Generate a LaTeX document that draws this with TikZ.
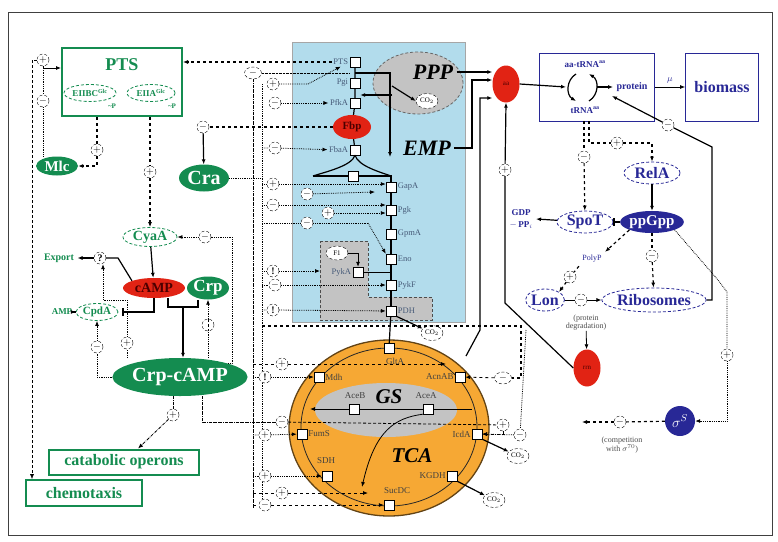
\documentclass[tikz,border=0pt]{standalone}
\usepackage{fontspec}
\setmainfont{Liberation Serif}
\usetikzlibrary{arrows.meta,shapes.geometric,calc}
\definecolor{gr}{RGB}{20,140,80}
\definecolor{bl}{RGB}{40,40,150}
\definecolor{rd}{RGB}{225,35,20}
\definecolor{lb}{RGB}{178,220,236}
\definecolor{org}{RGB}{246,168,52}
\definecolor{gy}{RGB}{195,195,195}
\definecolor{lbl}{RGB}{70,90,120}
\newcommand{\myfs}[1]{\fontsize{#1}{#1}\selectfont}
\begin{document}
\begin{tikzpicture}[x=1pt,y=-1pt,font=\bfseries,
  >={Latex[length=5pt,width=4pt]},
  sq/.style={draw,fill=white,minimum size=10pt,inner sep=0pt},
  pm/.style={circle,draw,densely dashed,fill=white,minimum size=12pt,inner sep=0pt,font=\bfseries\myfs{10}},
  lab/.style={font=\mdseries\myfs{8.5},text=lbl,inner sep=1.5pt},
  tlab/.style={font=\mdseries\myfs{9},text=black!75,inner sep=1pt},
  gfill/.style={ellipse,fill=gr,text=white,inner sep=0pt},
  gout/.style={ellipse,draw=gr,densely dashed,thick,fill=white,text=gr,inner sep=0pt},
  bout/.style={ellipse,draw=bl,densely dashed,thick,fill=white,text=bl,inner sep=0pt},
  cotwo/.style={ellipse,draw,densely dashed,fill=white,font=\mdseries\myfs{7},minimum width=22pt,minimum height=15pt,inner sep=0pt},
  dotar/.style={densely dotted,thick},
  dsh/.style={dashed,very thick},
  bigit/.style={font=\bfseries\itshape\myfs{22}}]
\useasboundingbox (0,0) rectangle (778,541);
\draw[black!75,line width=0.9pt] (8,12) rectangle (772,535);

% ---------------- EMP / PPP area
\draw[fill=lb,draw=black!35] (292,42) rectangle (465,322);
\draw[fill=gy,draw=black!70,densely dashed,thick] (320,241) -- (368,241) -- (368,297) -- (432,297) -- (432,320) -- (320,320) -- cycle;
\node[ellipse,fill=gy,draw=black!60,densely dashed,thick,minimum width=90pt,minimum height=62pt] (pppel) at (418,83) {};
\node[bigit] (ppptxt) at (433,72) {PPP};
\node[cotwo] (co2a) at (427,101) {CO$_2$};
\node[bigit] (emp) at (427,148) {EMP};

\node[sq] (spts) at (355,62) {}; \node[lab,anchor=east] (lpts) at (spts.west) {PTS};
\node[sq] (spgi) at (355,83) {}; \node[lab,anchor=east] (lpgi) at (spgi.west) {Pgi};
\node[sq] (spfk) at (355,103) {}; \node[lab,anchor=east] (lpfk) at (spfk.west) {PfkA};
\node[ellipse,fill=rd,minimum width=38pt,minimum height=24pt,inner sep=0pt,text=black!70!red,font=\bfseries\myfs{11}] (fbp) at (352,127) {Fbp};
\node[sq] (sfba) at (355,150) {}; \node[lab,anchor=east] (lfba) at (sfba.west) {FbaA};
\coordinate (vl) at (313,176); \coordinate (vr) at (391,176);
\node[sq] (stri) at (353,176) {};
\node[sq] (sgap) at (391,187) {}; \node[lab,anchor=west] (lgap) at (sgap.east) {GapA};
\node[sq] (spgk) at (391,210) {}; \node[lab,anchor=west] (lpgk) at (spgk.east) {Pgk};
\node[sq] (sgpm) at (391,234) {}; \node[lab,anchor=west] (lgpm) at (sgpm.east) {GpmA};
\node[sq] (seno) at (391,259) {}; \node[lab,anchor=west] (leno) at (seno.east) {Eno};
\node[sq] (spyka) at (358,272) {}; \node[lab,anchor=east] (lpyka) at (spyka.west) {PykA};
\node[sq] (spykf) at (391,285) {}; \node[lab,anchor=west] (lpykf) at (spykf.east) {PykF};
\node[sq] (spdh) at (391,311) {}; \node[lab,anchor=west] (lpdh) at (spdh.east) {PDH};
\node[ellipse,draw,densely dashed,fill=white,font=\mdseries\myfs{7},minimum width=22pt,minimum height=14pt,inner sep=0pt] (fone) at (337,253) {F1};

\draw[very thick] (spts) -- (spgi) -- (spfk) -- (fbp) -- (sfba);
\draw[very thick] (sfba.south) .. controls (352,166) and (325,172) .. (vl);
\draw[very thick] (sfba.south) .. controls (358,166) and (380,172) .. (vr);
\draw[very thick] (vl) -- (stri) -- (vr) -- (sgap);
\draw[very thick] (sgap) -- (spgk) -- (sgpm) -- (seno) -- (spykf) -- (spdh);
\draw[thick] (spyka) -- (spyka -| seno);
\draw[thick,->] (fone.east) -| (spyka.north);
\coordinate (pa) at (355,73); \coordinate (pb) at (390,73); \coordinate (pc) at (390,157);
\draw[very thick,->] (pa) -- (pb) -- (pc);
\coordinate (pd) at (392,86);
\draw[very thick,->] (pd) -- (co2a.west);
\coordinate (pe) at (392,95);
\draw[very thick,->] (pe) -- (pe -| spgi.east);

% ---------------- TCA
\node[ellipse,fill=org,draw=black!60!org,line width=1.3pt,minimum width=200pt,minimum height=176pt] (tca) at (389,428) {};
\node[ellipse,draw=black!85,thick,minimum width=176pt,minimum height=158pt] (ring) at (389,427) {};
\node[ellipse,fill=gy,minimum width=142pt,minimum height=54pt] (gs) at (386,410) {};
\node[bigit,font=\bfseries\itshape\myfs{21}] (gstxt) at (389,397) {GS};
\node[bigit,font=\bfseries\itshape\myfs{21}] (tcatxt) at (412,456) {TCA};
\node[sq] (sglt) at (389,348) {};
\node[sq] (smdh) at (319,377) {};
\node[sq] (sacn) at (460,377) {};
\node[sq] (sfum) at (302,434) {};
\node[sq] (sicd) at (477,434) {};
\node[sq] (ssdh) at (327,476) {};
\node[sq] (skg) at (452,476) {};
\node[sq] (ssuc) at (389,505) {};
\node[sq] (saceb) at (354,409) {};
\node[sq] (sacea) at (428,409) {};
\node[tlab] at (395,361) {GltA};
\node[tlab,anchor=west] at (smdh.east) {Mdh};
\node[tlab,anchor=east] at (sacn.west) {AcnAB};
\node[tlab,anchor=west] at (sfum.east) {FumS};
\node[tlab,anchor=east] at (sicd.west) {IcdA};
\node[tlab] at (326,461) {SDH};
\node[tlab,anchor=east] at (skg.west) {KGDH};
\node[tlab] at (397,491) {SucDC};
\node[tlab] at (355,396) {AceB};
\node[tlab] at (426,396) {AceA};
\draw[very thick] (spdh) -- (sglt);
\coordinate (gsr) at (472,409); \coordinate (gsl) at (310,409);
\draw[thick] (gsr) -- (sacea) -- (saceb);
\draw[thick,->] (saceb) -- (gsl);
\draw[thick,->] (sacea.south west) .. controls (395,418) and (375,430) .. (362,487);
\node[cotwo] (co2b) at (432,333) {CO$_2$};
\node[cotwo] (co2c) at (518,456) {CO$_2$};
\node[cotwo] (co2d) at (494,500) {CO$_2$};
\draw[very thick,->] (spdh.south east) -- (co2b);
\draw[very thick,->] (sicd.south east) -- (co2c);
\draw[very thick,->] (skg.south east) -- (co2d);

% ---------------- aa / protein
\node[ellipse,fill=rd,minimum width=27pt,minimum height=37pt,inner sep=0pt,font=\mdseries\myfs{7},text=black!70!red] (aa) at (506,84) {aa};
\node[draw=bl,thick,minimum width=115pt,minimum height=68pt] (pbox) at (597,87) {};
\node[draw=bl,thick,minimum width=73pt,minimum height=68pt,text=bl,font=\bfseries\myfs{16}] (bio) at (722,87) {biomass};
\draw[thick,->] (pbox.east) -- node[above,font=\mdseries\myfs{9},text=bl]{$\mu$} (bio.west);
\node[text=bl,font=\bfseries\myfs{9}] (atrna) at (585,64) {aa-tRNA\textsuperscript{aa}};
\node[text=bl,font=\bfseries\myfs{9}] (trna) at (585,110) {tRNA\textsuperscript{aa}};
\node[text=bl,font=\bfseries\myfs{10}] (prot) at (632,87) {protein};
\coordinate (cy1) at (566,87); \coordinate (cy2) at (597,87);
\draw[very thick,->] (aa.east) -- (cy1);
\draw[very thick,->] (cy2) -- (prot.west);
\draw[very thick,->] (576,74) .. controls (566,80) and (566,95) .. (576,101);
\draw[very thick,->] (589,101) .. controls (599,95) and (599,80) .. (589,74);
\coordinate (e1) at (472,148); \coordinate (e2) at (472,80);
\draw[very thick,->] (ppptxt.east) -- (ppptxt.east -| aa.west);
\draw[very thick,->] (emp.east) -- (e1) -- (e2) -- (e2 -| aa.west);
\coordinate (e5) at (466,356); \coordinate (e3) at (480,330); \coordinate (e4) at (480,98);
\draw[very thick,->] (e5) -- (e3) -- (e4) -- (e4 -| aa.west);

% ---------------- stringent response
\node[pm] (mtr) at (584,157) {$-$};
\node[pm] (ptr) at (617,143) {$+$};
\node[bout,font=\bfseries\myfs{16},minimum width=56pt,minimum height=22pt] (rela) at (652,173) {RelA};
\node[ellipse,fill=bl,text=white,font=\bfseries\myfs{15},minimum width=62pt,minimum height=22pt,inner sep=0pt] (ppg) at (652,222) {ppGpp};
\node[bout,font=\bfseries\myfs{16},minimum width=56pt,minimum height=22pt] (spot) at (585,222) {SpoT};
\node[text=bl,font=\bfseries\myfs{9},inner sep=0pt] (gdp) at (521,213) {GDP};
\node[text=bl,font=\bfseries\myfs{9},inner sep=0pt] (ppi) at (521,225) {$-$\,PP$_i$};
\node[text=bl,font=\mdseries\myfs{8}] (poly) at (592,259) {PolyP};
\node[pm] (plon) at (570,277) {$+$};
\node[bout,font=\bfseries\myfs{16},minimum width=38pt,minimum height=22pt] (lon) at (545,300) {Lon};
\node[pm] (mlr) at (581,300) {$-$};
\node[bout,font=\bfseries\myfs{16},minimum width=96pt,minimum height=24pt] (ribo) at (654,300) {Ribosomes};
\node[pm] (mpr) at (652,256) {$-$};
\node[font=\mdseries\myfs{8},text=black!70,align=center,inner sep=0pt] (pdeg) at (586,323) {(protein\\degradation)};
\node[ellipse,fill=rd,minimum width=27pt,minimum height=37pt,inner sep=0pt,font=\mdseries\myfs{7},text=black!70!red] (rrn) at (587,368) {rrn};
\node[pm] (paa) at (505,170) {$+$};
\node[pm] (mrp) at (668,125) {$-$};
\node[circle,fill=bl,text=white,minimum size=30pt,inner sep=0pt,font=\myfs{14}] (sig) at (680,421) {$\sigma^S$};
\node[pm] (psig) at (727,355) {$+$};
\node[pm] (msig) at (620,422) {$-$};
\node[font=\mdseries\myfs{8},text=black!70,align=center,inner sep=0pt] (comp) at (622,445) {(competition\\with $\sigma^{70}$)};
\coordinate (d1) at (584,121); \coordinate (d2) at (589,121); \coordinate (d3) at (589,143);
\draw[dsh] (d1) -- (mtr);
\draw[dsh,->] (mtr) -- (spot);
\draw[dsh] (d2) -- (d3) -- (ptr);
\draw[dsh,->] (ptr) -| (rela);
\draw[very thick,->] (rela) -- (ppg);
\draw[very thick,-{Bar[width=8pt]}] (ppg) -- (spot);
\coordinate (gd) at (536,219);
\draw[very thick,->] (spot) -- (gd);
\draw[dsh,->] (ppg.south west) -- (poly.north east);
\draw[dsh] (poly.south west) -- (plon);
\draw[dsh,->] (plon) -- (lon.north east);
\draw[thick] (lon) -- (mlr);
\draw[thick,->] (mlr) -- (ribo);
\draw[dsh] (ppg) -- (mpr);
\draw[dsh,->] (mpr) -- (ribo);
\draw[thick,->] (pdeg) -- (rrn);
\coordinate (r1c) at (505,303);
\draw[very thick] (rrn.west) -- (r1c) -- (paa);
\draw[very thick,->] (paa) -- (aa.south);
\coordinate (rb) at (712,147); \coordinate (pt) at (612,96);
\draw[very thick] (ribo.east) -| (rb) -- (mrp);
\draw[very thick,->] (mrp) -- (pt);
\coordinate (s1) at (718,280); \coordinate (s2) at (727,292);
\draw[dotar] (ppg.south east) -- (s1) -- (s2) -- (psig);
\draw[dotar,->] (psig) |- (sig.east);
\draw[dsh] (sig) -- (msig);
\coordinate (s3) at (582,422);
\draw[dsh,->] (msig) -- (s3);

% ---------------- left: PTS, Crp-cAMP
\node[draw=gr,line width=2pt,minimum width=120pt,minimum height=68pt] (ptsbox) at (122,82) {};
\node[text=gr,font=\bfseries\myfs{18}] (ptstxt) at (122,65) {PTS};
\node[gout,font=\bfseries\myfs{9},minimum width=52pt,minimum height=17pt] (eiibc) at (90,93) {EIIBC\textsuperscript{Glc}};
\node[gout,font=\bfseries\myfs{9},minimum width=48pt,minimum height=17pt] (eiia) at (151,93) {EIIA\textsuperscript{Glc}};
\node[text=gr,font=\bfseries\myfs{7},inner sep=0pt] (ph1) at (112,106) {\textasciitilde P};
\node[text=gr,font=\bfseries\myfs{7},inner sep=0pt] (ph2) at (172,106) {\textasciitilde P};
\node[gfill,font=\bfseries\myfs{15},minimum width=42pt,minimum height=19pt] (mlc) at (57,166) {Mlc};
\node[gfill,font=\bfseries\myfs{20},minimum width=50pt,minimum height=27pt] (cra) at (204,178) {Cra};
\node[pm] (mcra) at (203,127) {$-$};
\node[pm] (pmlc) at (97,150) {$+$};
\node[pm] (pcya) at (150,172) {$+$};
\node[pm] (ppts) at (43,60) {$+$};
\node[pm] (mmlc) at (43,101) {$-$};
\node[gout,font=\bfseries\myfs{14},minimum width=54pt,minimum height=19pt] (cyaa) at (150,237) {CyaA};
\node[ellipse,fill=rd,text=black!70!red,font=\bfseries\myfs{14},minimum width=62pt,minimum height=20pt,inner sep=0pt] (camp) at (154,288) {cAMP};
\node[gfill,font=\bfseries\myfs{17},minimum width=42pt,minimum height=23pt] (crp) at (208,288) {Crp};
\node[pm] (qex) at (100,258) {?};
\node[text=gr,font=\bfseries\myfs{10}] (export) at (59,258) {Export};
\node[gout,font=\bfseries\myfs{11},minimum width=42pt,minimum height=17pt] (cpda) at (97,312) {CpdA};
\node[text=gr,font=\bfseries\myfs{9}] (amp) at (62,312) {AMP};
\node[gfill,font=\bfseries\myfs{20},minimum width=127pt,minimum height=38pt] (crpcamp) at (180,377) {Crp-cAMP};
\node[pm] (mcpd) at (97,347) {$-$};
\node[pm] (pex) at (127,343) {$+$};
\node[pm,path picture={\draw (path picture bounding box.north) -- (path picture bounding box.south);}] (bcrp) at (208,325) {};
\node[pm] (mcya) at (205,237) {$-$};
\node[pm] (pcat) at (173,415) {$+$};
\node[draw=gr,line width=2pt,fill=white,text=gr,font=\bfseries\myfs{16},minimum width=150pt,minimum height=25pt] (catop) at (124,462) {catabolic operons};
\node[draw=gr,line width=2pt,fill=white,text=gr,font=\bfseries\myfs{16},minimum width=116pt,minimum height=26pt] (chemo) at (84,493) {chemotaxis};

\draw[dsh,->] (lpts.west) -- (lpts.west -| ptsbox.east);
\draw[dsh] (fbp) -- (mcra);
\draw[very thick,->] (mcra) -- (cra);
\draw[dsh] (pmlc |- ptsbox.south) -- (pmlc);
\draw[dsh,->] (pmlc) |- (mlc.east);
\draw[dsh] (pcya |- ptsbox.south) -- (pcya);
\draw[dsh,->] (pcya) -- (cyaa);
\coordinate (k4) at (43,68);
\draw[thick,->] (ppts) -- (k4) -- (k4 -| ptsbox.west);
\draw[dotar] (ppts) -- (mmlc) -- (mmlc |- mlc.north);
\coordinate (k3) at (32,60);
\draw[densely dashed] (ppts) -- (k3);
\draw[densely dashed,->] (k3) -- (k3 |- chemo.north);
\draw[very thick,->] (cyaa) -- (camp);
\draw[very thick,->] (qex) -- (export);
\coordinate (q1) at (118,258);
\draw[very thick] (camp.north west) -- (q1) -- (qex);
\draw[very thick,->] (cpda) -- (amp);
\draw[very thick,-{Bar[width=8pt]},shorten >=4pt] (camp.south) |- (cpda.east);
\coordinate (j1) at (168,307); \coordinate (j2) at (198,307); \coordinate (j3) at (183,307);
\draw[very thick] (j1 |- camp.south) -- (j1) -- (j2) -- (j2 |- crp.south);
\draw[very thick,->] (j3) -- (j3 |- crpcamp.north);
\draw[dotar] (crpcamp.west) -| (mcpd);
\draw[dotar,->] (mcpd) -- (cpda);
\coordinate (k1) at (103,300);
\draw[dotar] (pex |- crpcamp.north) -- (pex);
\draw[dotar,->] (pex) |- (k1) -- (k1 |- qex.south);
\draw[dotar] (bcrp |- crpcamp.north) -- (bcrp);
\draw[dotar,->] (bcrp) -- (crp);
\coordinate (k2) at (232,237);
\draw[dotar] (crpcamp.north east) -- (k2 |- crpcamp.north east) -- (k2) -- (mcya);
\draw[dotar,->] (mcya) -- (cyaa);
\draw[densely dashdotted,thick] (pcat |- crpcamp.south) -- (pcat);
\draw[densely dashdotted,thick,->] (pcat) -- (catop);

% ---------------- regulator column
\node[pm,ellipse,minimum width=17pt,minimum height=12pt] (ra) at (253,73) {$-$};
\node[pm] (rb2) at (273,84) {$+$};
\node[pm] (rc) at (275,103) {$-$};
\node[pm] (rd) at (275,148) {$-$};
\node[pm] (re) at (273,184) {$+$};
\node[pm] (rf) at (307,194) {$-$};
\node[pm] (rg) at (273,205) {$-$};
\node[pm] (rh) at (328,213) {$+$};
\node[pm] (ri) at (307,223) {$-$};
\node[pm] (rj) at (273,271) {!};
\node[pm] (rk) at (275,285) {$-$};
\node[pm] (rl) at (273,310) {!};
\coordinate (busa) at (253,0); \coordinate (busb) at (262,0);
\coordinate (bend) at (253,508); \coordinate (bendb) at (262,500);
\draw[densely dashdotted,thick] (ra) -- (bend);
\coordinate (bbtop) at (262,84);
\draw[dotar] (bbtop) -- (bendb);
\draw[densely dotted] (ra) -- (ra -| spts.west);
\draw[dotar] (cra.east) -- (busb |- cra.east);
\coordinate (rbx) at (308,84);
\draw[dotar,->] (rb2) -- (rbx) -- (lpts.south);
\draw[dotar,->] (rc) -- (lpfk);
\draw[dotar,->] (busb |- rd) -- (rd) -- (lfba);
\draw[dotar,->] (busb |- re) -- (re) -- (sgap.west |- re);
\coordinate (rfx) at (375,192);
\draw[dotar,->] (rf) -- (rfx);
\draw[dotar,->] (busb |- rg) -- (rg) -- (spgk.west |- rg);
\draw[dotar,->] (rh) -- (spgk.west |- rh);
\coordinate (rix) at (368,223);
\draw[dotar] (busb |- ri) -- (ri) -- (rix);
\draw[dotar,->] (rix) -- (seno.north west);
\coordinate (rjx) at (320,271);
\draw[dotar,->] (busb |- rj) -- (rj) -- (rjx);
\draw[dotar,->] (busb |- rk) -- (rk) -- (spykf);
\draw[dotar,->] (busb |- rl) -- (rl) -- (spdh);

% ---------------- TCA regulators
\node[pm] (ta) at (282,364) {$+$};
\node[pm] (tb) at (265,377) {!};
\node[pm] (tc) at (282,422) {$-$};
\node[pm] (td) at (265,435) {$+$};
\node[pm] (te) at (265,476) {$+$};
\node[pm] (tf) at (282,493) {$+$};
\node[pm] (tg) at (265,505) {$-$};
\node[pm,ellipse,minimum width=17pt,minimum height=12pt] (th) at (503,378) {$-$};
\node[pm] (ti) at (503,425) {$+$};
\node[pm] (tj) at (520,435) {$-$};
\coordinate (tax) at (446,364);
\draw[dashed,thick] (busa |- ta) -- (ta);
\draw[dashed,thick,->] (ta) -- (tax);
\draw[dotar,->] (busa |- tb) -- (tb) -- (smdh);
\coordinate (k5) at (202,422);
\draw[densely dashdotted,thick] (k5 |- crpcamp.south) -- (k5) -- (tc);
\draw[densely dashed,thick] (tc) -- (ti);
\draw[dotar,->] (busa |- td) -- (td) -- (sfum);
\draw[dotar,->] (busa |- te) -- (te) -- (ssdh);
\coordinate (tfx) at (368,493);
\draw[dashed,thick] (busa |- tf) -- (tf);
\draw[dashed,thick,->] (tf) -- (tfx);
\draw[dashed,thick] (busa |- tg) -- (tg);
\draw[dashed,thick,->] (tg) -- (ssuc);
\coordinate (k6) at (262,326); \coordinate (k7) at (521,326); \coordinate (k8) at (526,330);
\draw[dashed,very thick] (k6) -- (k7) -- (k7 |- th) -- (th);
\draw[dashed,thick,->] (th) -- (sacn);
\draw[dashed,thick,->] (ti) |- (sicd.east);
\draw[dotar] (k8) -- (tj);
\draw[dotar,->] (tj) -- (sicd);
\end{tikzpicture}
\end{document}
